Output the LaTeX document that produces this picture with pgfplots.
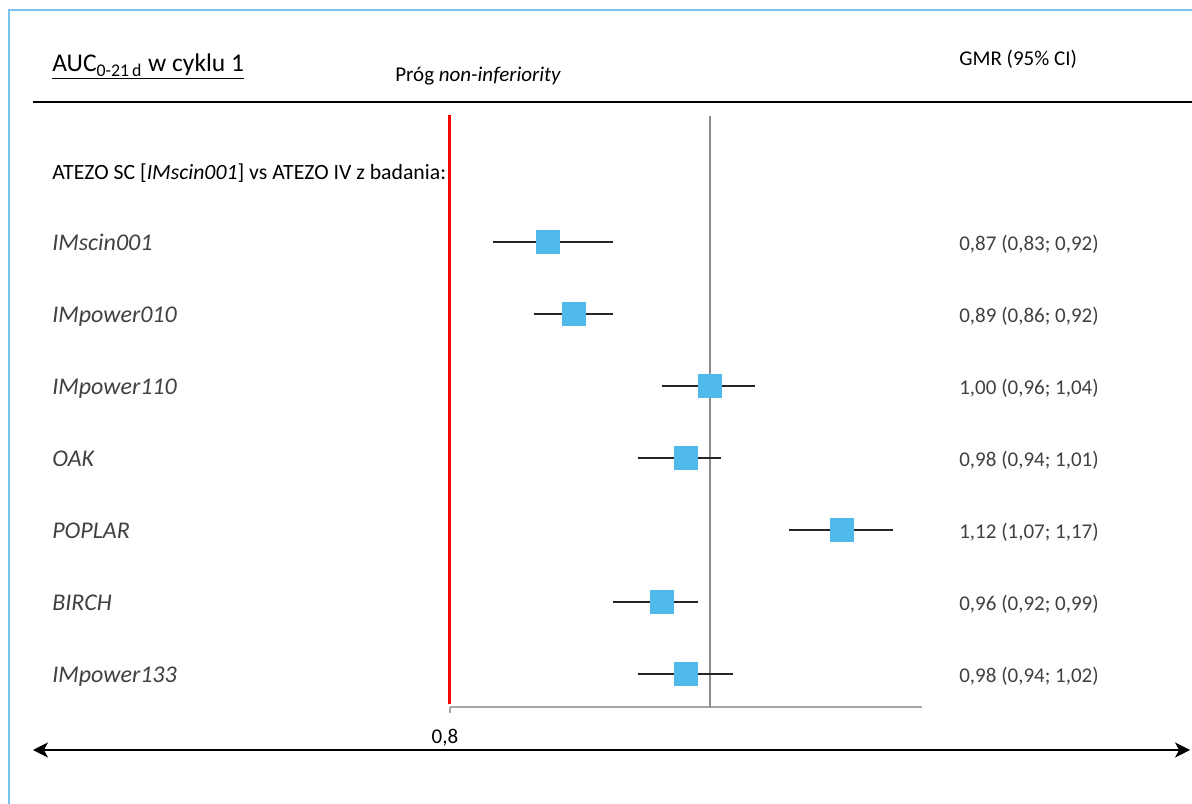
\documentclass[border=0pt]{standalone}
\usepackage{pgfplots}
\pgfplotsset{compat=1.18}
\usepackage{fontspec}
\setmainfont{Carlito}
\usetikzlibrary{arrows.meta}
\definecolor{gmrblue}{RGB}{78,185,234}
\definecolor{frameblue}{RGB}{120,195,235}
\definecolor{axgray}{RGB}{165,165,165}
\definecolor{refgray}{RGB}{140,140,140}
\definecolor{txtgray}{RGB}{64,64,64}
\begin{document}
\begin{tikzpicture}
\begin{scope}[x=0.6pt,y=0.6pt]
\path[use as bounding box] (0,0) rectangle (1192,-804);
% outer frame
\draw[frameblue, line width=0.9pt] (9,-804) -- (9,-10) -- (1192,-10);
% header rule and bottom double arrow
\draw[black, line width=0.9pt] (33,-102) -- (1192,-102);
\draw[black, line width=0.9pt, {Stealth[length=9pt,width=9pt,inset=2.5pt]}-{Stealth[length=9pt,width=9pt,inset=2.5pt]}] (33,-750) -- (1190,-750);
\end{scope}

\begin{axis}[
  at={(270pt,-424.2pt)}, anchor=south west,
  scale only axis, width=283.2pt, height=354.6pt,
  xmode=log, xmin=0.8, xmax=1.2,
  ymin=-7.458, ymax=0.75,
  axis x line*=bottom, axis y line=none,
  axis line style={axgray, line width=1.2pt, -},
  xtick={0.8}, xticklabel={0,8}, minor xtick={},
  tick align=outside, major tick length=3.6pt,
  x tick style={axgray, line width=0.8pt},
  xticklabel style={font=\fontsize{12.6}{14}\selectfont, yshift=-6pt, xshift=-3pt},
  /pgf/number format/assume math mode=true,
  clip=false,
]
% line of no difference
\addplot[refgray, line width=0.9pt] coordinates {(1,0.75) (1,-7.458)};
% confidence intervals
\addplot[black!85, line width=0.9pt] coordinates {(0.83,-1) (0.92,-1)};
\addplot[black!85, line width=0.9pt] coordinates {(0.86,-2) (0.92,-2)};
\addplot[black!85, line width=0.9pt] coordinates {(0.96,-3) (1.04,-3)};
\addplot[black!85, line width=0.9pt] coordinates {(0.94,-4) (1.01,-4)};
\addplot[black!85, line width=0.9pt] coordinates {(1.07,-5) (1.17,-5)};
\addplot[black!85, line width=0.9pt] coordinates {(0.92,-6) (0.99,-6)};
\addplot[black!85, line width=0.9pt] coordinates {(0.94,-7) (1.02,-7)};
% point estimates
\addplot[only marks, mark=square*, mark size=6.9pt,
  mark options={fill=gmrblue, draw=gmrblue, line width=0.3pt}]
  coordinates {(0.87,-1) (0.89,-2) (1.00,-3) (0.98,-4) (1.12,-5) (0.96,-6) (0.98,-7)};
% non-inferiority margin
\addplot[red, line width=1.8pt] coordinates {(0.8,0.77) (0.8,-7.42)};
\end{axis}

\begin{scope}[x=0.6pt,y=0.6pt]
% titles
\node[anchor=base west, inner sep=0, font=\fontsize{15.3}{18}\selectfont] at (52,-72)
  {\underline{AUC\textsubscript{0-21\,d} w cyklu 1}};
\node[anchor=base west, inner sep=0, font=\fontsize{12.6}{14}\selectfont] at (395,-82)
  {Próg \textit{non-inferiority}};
\node[anchor=base west, inner sep=0, font=\fontsize{12.6}{14}\selectfont] at (959,-66)
  {GMR (95\% CI)};
\node[anchor=base west, inner sep=0, font=\fontsize{13.05}{15}\selectfont] at (52,-180)
  {ATEZO SC [\textit{IMscin001}] vs ATEZO IV z badania:};

% study labels and estimates
\begin{scope}[every node/.style={anchor=base west, inner sep=0, text=txtgray, font=\fontsize{14.4}{16}\selectfont}]
\node at (52,-251) {\textit{IMscin001}};
\node at (52,-323) {\textit{IMpower010}};
\node at (52,-395) {\textit{IMpower110}};
\node at (52,-467) {\textit{OAK}};
\node at (52,-539) {\textit{POPLAR}};
\node at (52,-611) {\textit{BIRCH}};
\node at (52,-683) {\textit{IMpower133}};
\end{scope}
\begin{scope}[every node/.style={anchor=base west, inner sep=0, text=txtgray, font=\fontsize{12.6}{14}\selectfont}]
\node at (959,-251) {0,87 (0,83; 0,92)};
\node at (959,-323) {0,89 (0,86; 0,92)};
\node at (959,-395) {1,00 (0,96; 1,04)};
\node at (959,-467) {0,98 (0,94; 1,01)};
\node at (959,-539) {1,12 (1,07; 1,17)};
\node at (959,-611) {0,96 (0,92; 0,99)};
\node at (959,-683) {0,98 (0,94; 1,02)};
\end{scope}
\end{scope}
\end{tikzpicture}
\end{document}
